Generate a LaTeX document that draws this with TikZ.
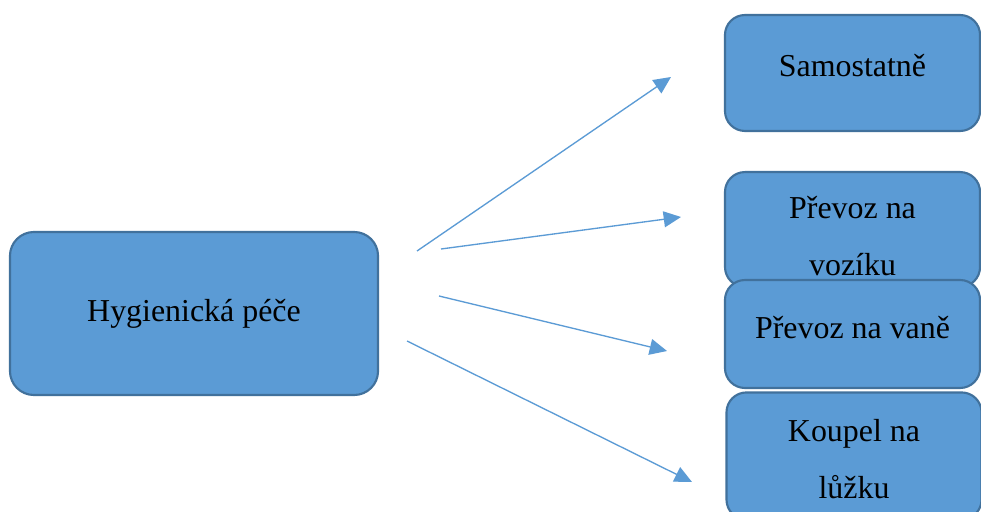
\documentclass[tikz,border=0pt]{standalone}
\usepackage{fontspec}
\setmainfont{Liberation Serif}
\usetikzlibrary{positioning}
\usetikzlibrary{arrows.meta}

\definecolor{boxfill}{HTML}{5B9BD5}
\definecolor{boxline}{HTML}{41719C}

\begin{document}
\begin{tikzpicture}[x=0.376pt, y=-0.376pt,
mainnode/.style={rectangle, rounded corners=9pt, draw=boxline, fill=boxfill, line width=0.8pt, minimum width=138.4pt, minimum height=61.3pt, font=\fontsize{12}{21.4}\selectfont, align=center},
carenode/.style={rectangle, rounded corners=7.5pt, draw=boxline, fill=boxfill, line width=0.8pt, minimum width=95.9pt, font=\fontsize{12}{21.4}\selectfont, align=center},
careline/.style={draw=boxfill, line width=0.5pt, -{Triangle[length=6.5pt, width=6pt]}},
]
\clip (0,0) rectangle (981,511);
\fill[white] (0,0) rectangle (981,511);

%Nodes
\node[carenode, minimum height=43.6pt, text depth=6pt]     (self)   at (852.5,73)   {Samostatně};
\node[carenode, minimum height=43.2pt, text height=35pt]   (chair)  at (852.5,229.5) {Převoz na\\vozíku};
\node[carenode, minimum height=40.6pt, text depth=5pt]     (bath)   at (852.5,334)  {Převoz na vaně};
\node[carenode, minimum height=47.8pt, text height=32pt]   (bed)    at (854,456)    {Koupel na\\lůžku};
\node[mainnode]                            (care)   at (194,313.5) {Hygienická péče};

%Arrow ends
\coordinate (s1) at (417,251); \coordinate (e1) at (671,77);
\coordinate (s2) at (441,249); \coordinate (e2) at (681,217);
\coordinate (s3) at (439,296); \coordinate (e3) at (667,351);
\coordinate (s4) at (407,341); \coordinate (e4) at (692,482);

%Lines
\draw[careline] (s1) -- (e1);
\draw[careline] (s2) -- (e2);
\draw[careline] (s3) -- (e3);
\draw[careline] (s4) -- (e4);
\end{tikzpicture}
\end{document}
